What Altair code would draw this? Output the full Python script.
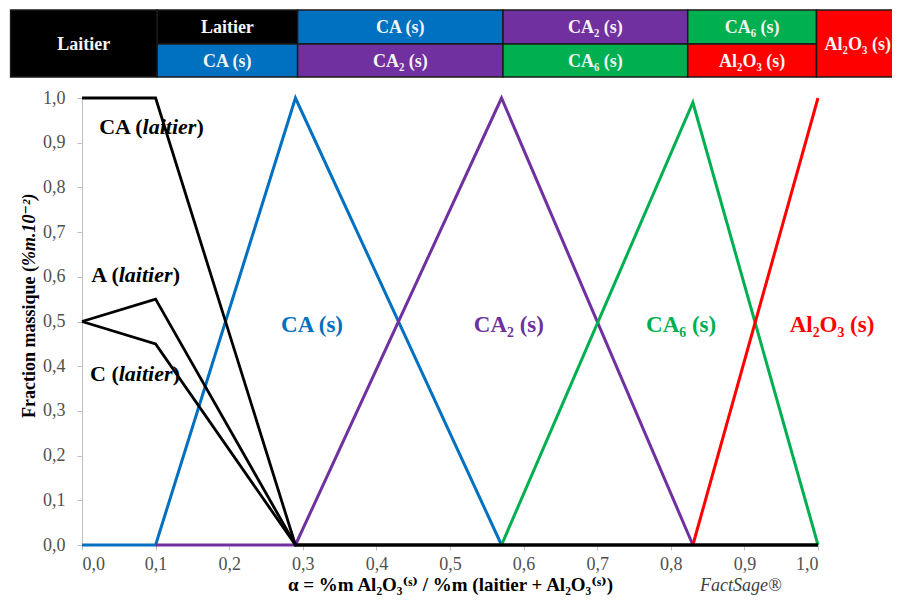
import altair as alt
import pandas as pd

# ---------------- data ----------------
alpha_ticks = [0.0, 0.1, 0.2, 0.3, 0.4, 0.5, 0.6, 0.7, 0.8, 0.9, 1.0]

phases = ["Laitier", "CA (s)", "CA₂ (s)", "CA₆ (s)", "Al₂O₃ (s)"]
phase_colors = ["#000000", "#0070C0", "#7030A0", "#00B050", "#FF0000"]

# solid phases
alpha_ca_s = [0.0, 0.10, 0.29, 0.57]
frac_ca_s = [0.0, 0.0, 1.0, 0.0]
alpha_ca2_s = [0.10, 0.29, 0.57, 0.83]
frac_ca2_s = [0.0, 0.0, 1.0, 0.0]
alpha_ca6_s = [0.57, 0.83, 1.0]
frac_ca6_s = [0.0, 0.99, 0.0]
alpha_al2o3_s = [0.83, 1.0]
frac_al2o3_s = [0.0, 1.0]

# slag (laitier) components
alpha_ca_l = [0.0, 0.10, 0.29, 1.0]
frac_ca_l = [1.0, 1.0, 0.0, 0.0]
alpha_a_l = [0.0, 0.10, 0.29, 1.0]
frac_a_l = [0.5, 0.55, 0.0, 0.0]
alpha_c_l = [0.0, 0.10, 0.29]
frac_c_l = [0.5, 0.45, 0.0]

# header band (phase domains)
top_phases = ["Laitier", "CA (s)", "CA₂ (s)", "CA₆ (s)"]
top_start = [0.102, 0.293, 0.572, 0.823]
top_end = [0.293, 0.572, 0.823, 0.998]
bottom_phases = ["CA (s)", "CA₂ (s)", "CA₆ (s)", "Al₂O₃ (s)"]
bottom_start = [0.102, 0.293, 0.572, 0.823]
bottom_end = [0.293, 0.572, 0.823, 0.998]
full_phases = ["Laitier", "Al₂O₃ (s)"]
full_start = [-0.097, 0.998]
full_end = [0.102, 1.11]

# in-plot labels
solid_labels = ["CA (s)", "CA₂ (s)", "CA₆ (s)", "Al₂O₃ (s)"]
solid_label_x = [0.3125, 0.580, 0.814, 1.019]
solid_label_y = [0.477, 0.477, 0.477, 0.477]

slag_label_head = ["CA (", "A (", "C ("]
slag_label_x = [0.0823, 0.0499, 0.0499]
slag_label_y = [0.92, 0.588, 0.367]

x_title = "α = %m Al₂O₃⁽ˢ⁾ / %m (laitier +  Al₂O₃⁽ˢ⁾)"
y_title_a = "Fraction massique ("
y_title_b = "%m.10⁻²)"
credit = "FactSage®"

# ---------------- chart ----------------
SERIF = "Liberation Serif, Times New Roman, DejaVu Serif, serif"
xscale = alt.Scale(domain=[0, 1], nice=False, zero=False)
yscale = alt.Scale(domain=[0, 1], nice=False, zero=False)
cscale = alt.Scale(domain=phases, range=phase_colors)
fmt = "replace(format(datum.value, '.1f'), '.', ',')"

XAXIS = alt.Axis(values=alpha_ticks, labelExpr=fmt, title=x_title,
                 titleFont=SERIF, titleFontSize=19, titleFontWeight="bold",
                 titleColor="#000000", titlePadding=2, labelPadding=5, tickSize=5)
YAXIS = alt.Axis(values=alpha_ticks, labelExpr=fmt, title="",
                 labelPadding=12, tickSize=5)


def X(field):
    return alt.X(field, scale=xscale, axis=XAXIS)


def Y(field):
    return alt.Y(field, scale=yscale, axis=YAXIS)


def line_layer(xs, ys, color, width):
    df = pd.DataFrame({"alpha": xs, "frac": ys})
    return alt.Chart(df).mark_line(color=color, strokeWidth=width).encode(
        x=X("alpha:Q"), y=Y("frac:Q"))


layers = [
    line_layer(alpha_ca_s, frac_ca_s, phase_colors[1], 3.0),
    line_layer(alpha_ca2_s, frac_ca2_s, phase_colors[2], 3.0),
    line_layer(alpha_ca6_s, frac_ca6_s, phase_colors[3], 3.0),
    line_layer(alpha_al2o3_s, frac_al2o3_s, phase_colors[4], 3.0),
    line_layer(alpha_ca_l, frac_ca_l, "#000000", 2.8),
    line_layer(alpha_a_l, frac_a_l, "#000000", 2.8),
    line_layer(alpha_c_l, frac_c_l, "#000000", 2.8),
]


def header_layer(ph, x0, x1, ytop, ybot, size):
    df = pd.DataFrame({"phase": ph, "x0": x0, "x1": x1})
    base = alt.Chart(df)
    rect = base.mark_rect(stroke="#1a1a1a", strokeWidth=1.5).encode(
        x=X("x0:Q"),
        x2="x1:Q",
        y=alt.value(ytop),
        y2=alt.value(ybot),
        color=alt.Color("phase:N", scale=cscale, legend=None),
    )
    txt = base.transform_calculate(xm="(datum.x0 + datum.x1) / 2").mark_text(
        font=SERIF, fontSize=size, fontWeight="bold", color="#f4f4f4",
        align="center", baseline="middle"
    ).encode(
        x=X("xm:Q"),
        y=alt.value((ytop + ybot) / 2 + 1),
        text="phase:N",
    )
    return [rect, txt]


layers += header_layer(top_phases, top_start, top_end, -88, -54, 18)
layers += header_layer(bottom_phases, bottom_start, bottom_end, -54, -21, 18)
layers += header_layer(full_phases, full_start, full_end, -88, -21, 18)

# coloured solid-phase labels
sdf = pd.DataFrame({"phase": solid_labels, "lx": solid_label_x, "ly": solid_label_y})
layers.append(
    alt.Chart(sdf).mark_text(font=SERIF, fontSize=23, fontWeight="bold",
                             align="center", baseline="alphabetic").encode(
        x=X("lx:Q"),
        y=Y("ly:Q"),
        text="phase:N",
        color=alt.Color("phase:N", scale=cscale, legend=None),
    )
)

# slag labels: "CA (" + italic "laitier" + ")"
ldf = pd.DataFrame({"head": slag_label_head, "lx": slag_label_x, "ly": slag_label_y,
                    "mid": ["laitier"] * 3, "tail": [")"] * 3})
lbase = alt.Chart(ldf).encode(x=X("lx:Q"), y=Y("ly:Q"))
layers.append(lbase.mark_text(font=SERIF, fontSize=22, fontWeight="bold", color="#000000",
                              align="right", baseline="alphabetic").encode(text="head:N"))
layers.append(lbase.mark_text(font=SERIF, fontSize=22, fontWeight="bold", fontStyle="italic",
                              color="#000000", align="left", baseline="alphabetic").encode(text="mid:N"))
layers.append(lbase.mark_text(font=SERIF, fontSize=22, fontWeight="bold", color="#000000",
                              align="left", baseline="alphabetic", dx=54).encode(text="tail:N"))

# y title in two styles
layers.append(alt.Chart(pd.DataFrame({"t": [y_title_a]})).mark_text(
    font=SERIF, fontSize=18, fontWeight="bold", color="#000000", angle=270,
    align="right", baseline="middle").encode(x=alt.value(-52), y=alt.value(168), text="t:N"))
layers.append(alt.Chart(pd.DataFrame({"t": [y_title_b]})).mark_text(
    font=SERIF, fontSize=18, fontWeight="bold", fontStyle="italic", color="#000000", angle=270,
    align="left", baseline="middle").encode(x=alt.value(-52), y=alt.value(168), text="t:N"))

# credit
layers.append(alt.Chart(pd.DataFrame({"t": [credit]})).mark_text(
    font=SERIF, fontSize=18, fontStyle="italic", color="#404040",
    align="left", baseline="middle").encode(x=alt.value(618), y=alt.value(488), text="t:N"))

chart = alt.layer(*layers).properties(
    width=736, height=447,
    autosize=alt.AutoSizeParams(type="none"),
    padding={"left": 74, "top": 90, "right": 74, "bottom": 52},
    background="#ffffff",
).configure_view(stroke=None).configure_axis(
    grid=False,
    domainColor="#bfbfbf",
    tickColor="#bfbfbf",
    labelColor="#505050",
    labelFont=SERIF,
    labelFontSize=18,
)

chart.save("out.html", embed_options={"renderer": "svg", "actions": False})
